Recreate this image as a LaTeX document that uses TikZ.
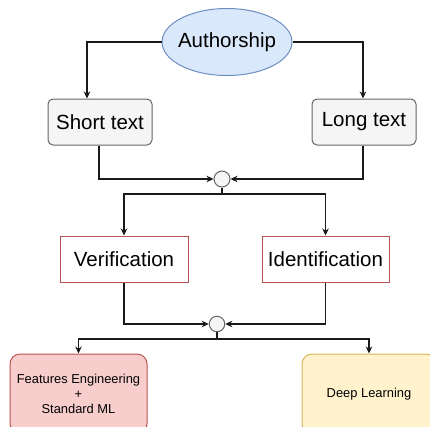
\documentclass[tikz,border=0pt]{standalone}
\usepackage{fontspec}
\setmainfont{Liberation Sans}
\usetikzlibrary{shapes.geometric,arrows.meta}

\definecolor{blueF}{HTML}{DAE8FC}
\definecolor{blueB}{HTML}{6C8EBF}
\definecolor{grayF}{HTML}{F5F5F5}
\definecolor{grayB}{HTML}{666666}
\definecolor{redF}{HTML}{F8CECC}
\definecolor{redB}{HTML}{B85450}
\definecolor{yelF}{HTML}{FFF2CC}
\definecolor{yelB}{HTML}{D6B656}
\definecolor{lineC}{HTML}{1A1A1A}

\tikzset{
  big/.style={font=\fontsize{20.5}{24}\selectfont},
  small/.style={font=\fontsize{12.9}{15}\selectfont},
  graybox/.style={draw=grayB, fill=grayF, rounded corners=5pt, line width=1pt,
    minimum width=104, minimum height=46, inner sep=0pt, big},
  redbox/.style={draw=redB, fill=white, line width=1pt,
    minimum height=46, inner sep=0pt, big},
  leaf/.style={rounded corners=10pt, line width=1pt, minimum height=80,
    inner sep=0pt, align=center, small},
  junction/.style={circle, draw=grayB, fill=grayF, line width=1pt, inner sep=0pt},
  link/.style={draw=lineC, line width=1.1pt},
  arr/.style={link, -{Stealth[length=7pt,width=6.5pt,inset=2.2pt]}},
}

\begin{document}
\begin{tikzpicture}[x=1pt,y=-1pt]
\useasboundingbox (0,0) rectangle (430,426);
\clip (0,0) rectangle (430,426);

% top level
\node[ellipse, draw=blueB, fill=blueF, line width=1pt, minimum width=130,
      minimum height=67, inner xsep=-6pt, inner ysep=0pt, big] (auth) at (227,42) {Authorship};

% text length
\node[graybox] (short) at (100,122) {Short text};
\node[graybox] (long)  at (364,122) {Long text};

\draw[arr] (auth.west) -| ([xshift=-13pt]short.north);
\draw[arr] (auth.east) -| ([xshift=-1pt]long.north);

\node[junction, minimum size=16] (j1) at (222,179) {};
\draw[arr] ([xshift=-1pt]short.south) |- (j1.west);
\draw[arr] ([xshift=-1pt]long.south) |- (j1.east);

% tasks
\node[redbox, minimum width=128] (verif) at (124,259) {Verification};
\node[redbox, minimum width=127] (ident) at (325.5,259) {Identification};

\coordinate (b1) at (222,194);
\draw[link] (j1.south) -- (b1);
\draw[arr] (b1) -| (verif.north);
\draw[arr] (b1) -| (ident.north);

\node[junction, minimum size=15.5] (j2) at (217,324) {};
\draw[arr] (verif.south) |- (j2.west);
\draw[arr] (ident.south) |- (j2.east);

% approaches
\node[leaf, draw=redB, fill=redF, minimum width=137] (feat) at (78.5,394)
  {Features Engineering\\+\\Standard ML};
\node[leaf, draw=yelB, fill=yelF, minimum width=134] (deep) at (369,394)
  {\raisebox{2pt}{Deep Learning}};

\coordinate (b2) at (217,339);
\draw[link] (j2.south) -- (b2);
\draw[arr] (b2) -| (feat.north);
\draw[arr] (b2) -| (deep.north);
\end{tikzpicture}
\end{document}
